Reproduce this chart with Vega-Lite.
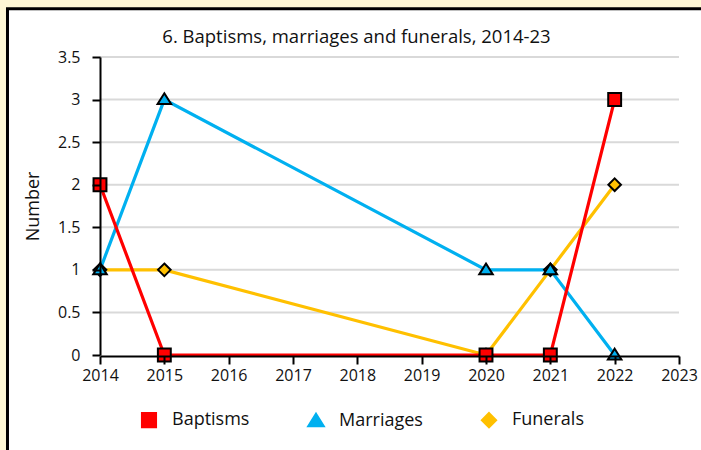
{
  "$schema": "https://vega.github.io/schema/vega-lite/v6.json",
  "width": 579,
  "height": 298,
  "autosize": "none",
  "padding": {"left": 100, "top": 57, "right": 22, "bottom": 95},
  "background": "#FFF8D5",
  "title": {
    "text": "6. Baptisms, marriages and funerals, 2014-23",
    "font": "Open Sans",
    "fontSize": 18.5,
    "fontWeight": "normal",
    "color": "#111111",
    "anchor": "middle",
    "dx": -33,
    "offset": -39
  },
  "config": {
    "view": {"stroke": null},
    "axis": {
      "labelFont": "Open Sans",
      "titleFont": "Open Sans",
      "labelColor": "#111111",
      "titleColor": "#111111"
    },
    "legend": {
      "labelFont": "Open Sans",
      "title": null,
      "orient": "none",
      "direction": "horizontal",
      "legendX": 32,
      "legendY": 346,
      "padding": 0,
      "symbolSize": 900,
      "symbolStrokeWidth": 3.2,
      "labelFontSize": 18,
      "labelColor": "#111111",
      "labelOffset": 6,
      "columnPadding": 49
    }
  },
  "data": {
    "values": [
      {"year": 2014, "series": "Funerals", "value": 1},
      {"year": 2015, "series": "Funerals", "value": 1},
      {"year": 2020, "series": "Funerals", "value": 0},
      {"year": 2021, "series": "Funerals", "value": 1},
      {"year": 2022, "series": "Funerals", "value": 2},
      {"year": 2014, "series": "Marriages", "value": 1},
      {"year": 2015, "series": "Marriages", "value": 3},
      {"year": 2020, "series": "Marriages", "value": 1},
      {"year": 2021, "series": "Marriages", "value": 1},
      {"year": 2022, "series": "Marriages", "value": 0},
      {"year": 2014, "series": "Baptisms", "value": 2},
      {"year": 2015, "series": "Baptisms", "value": 0},
      {"year": 2020, "series": "Baptisms", "value": 0},
      {"year": 2021, "series": "Baptisms", "value": 0},
      {"year": 2022, "series": "Baptisms", "value": 3}
    ]
  },
  "layer": [
    {
      "data": {"values": [{"frame": "panel"}]},
      "mark": {"type": "rect", "fill": "white", "stroke": "black", "strokeWidth": 3, "clip": false},
      "encoding": {
        "x": {"datum": 2012.562, "type": "quantitative"},
        "x2": {"datum": 2025},
        "y": {"datum": 4.067, "type": "quantitative"},
        "y2": {"datum": -2}
      }
    },
    {
      "data": {"values": [{"g": 0.5}, {"g": 1}, {"g": 1.5}, {"g": 2}, {"g": 2.5}, {"g": 3}, {"g": 3.5}]},
      "mark": {"type": "rule", "color": "#D9D9D9", "strokeWidth": 2},
      "encoding": {
        "y": {"field": "g", "type": "quantitative"}
      }
    },
    {
      "mark": {"type": "line", "strokeWidth": 3.2},
      "encoding": {
        "x": {"field": "year", "type": "quantitative"},
        "y": {"field": "value", "type": "quantitative"},
        "stroke": {
          "field": "series",
          "type": "nominal",
          "scale": {"domain": ["Baptisms", "Marriages", "Funerals"], "range": ["#FF0000", "#00B0F0", "#FFC000"]},
          "legend": {
            "encode": {
              "symbols": {
                "update": {
                  "shape": {"signal": "datum.value === 'Baptisms' ? 'M-1,-0.1H1V0.1H-1ZM-0.48,-0.48H0.48V0.48H-0.48Z' : datum.value === 'Marriages' ? 'M-1,0.18H1V0.38H-1ZM0,-0.45L0.5,0.36H-0.5Z' : 'M-1,-0.1H1V0.1H-1ZM0,-0.46L0.46,0L0,0.46L-0.46,0Z'"},
                  "fill": {"signal": "datum.value === 'Baptisms' ? '#FF0000' : datum.value === 'Marriages' ? '#00B0F0' : '#FFC000'"},
                  "strokeWidth": {"value": 3.2}
                }
              }
            }
          }
        }
      }
    },
    {
      "mark": {"type": "point", "filled": true, "opacity": 1, "size": 900, "stroke": "black", "strokeWidth": 2},
      "encoding": {
        "x": {"field": "year", "type": "quantitative"},
        "y": {"field": "value", "type": "quantitative"},
        "fill": {
          "field": "series",
          "type": "nominal",
          "scale": {"domain": ["Baptisms", "Marriages", "Funerals"], "range": ["#FF0000", "#00B0F0", "#FFC000"]},
          "legend": null
        },
        "shape": {
          "field": "series",
          "type": "nominal",
          "scale": {"domain": ["Baptisms", "Marriages", "Funerals"], "range": [
            "M-0.43,-0.43H0.43V0.43H-0.43Z",
            "M0,-0.42L0.45,0.3H-0.45Z",
            "M0,-0.42L0.42,0L0,0.42L-0.42,0Z"
          ]},
          "legend": null
        }
      }
    }
  ],
  "encoding": {
    "x": {
      "scale": {"domain": [2014, 2023], "nice": false, "zero": false},
      "axis": {
        "title": null,
        "values": [2014, 2015, 2016, 2017, 2018, 2019, 2020, 2021, 2022, 2023],
        "format": "d",
        "grid": false,
        "offset": 1,
        "domainColor": "black",
        "domainWidth": 2,
        "tickColor": "black",
        "tickWidth": 2,
        "tickSize": 8,
        "labelFontSize": 16,
        "labelPadding": 3,
        "labelFlush": false,
        "labelOverlap": false,
        "zindex": 1
      }
    },
    "y": {
      "scale": {"domain": [0, 3.5], "nice": false, "zero": false},
      "axis": {
        "title": "Number",
        "values": [0, 0.5, 1, 1.5, 2, 2.5, 3, 3.5],
        "format": ".1~f",
        "grid": false,
        "domainColor": "black",
        "domainWidth": 2,
        "tickColor": "black",
        "tickWidth": 2,
        "tickSize": 8,
        "labelFontSize": 16,
        "labelPadding": 12,
        "titleFontSize": 18,
        "titleFontWeight": "normal",
        "titlePadding": 15,
        "zindex": 1
      }
    }
  }
}
